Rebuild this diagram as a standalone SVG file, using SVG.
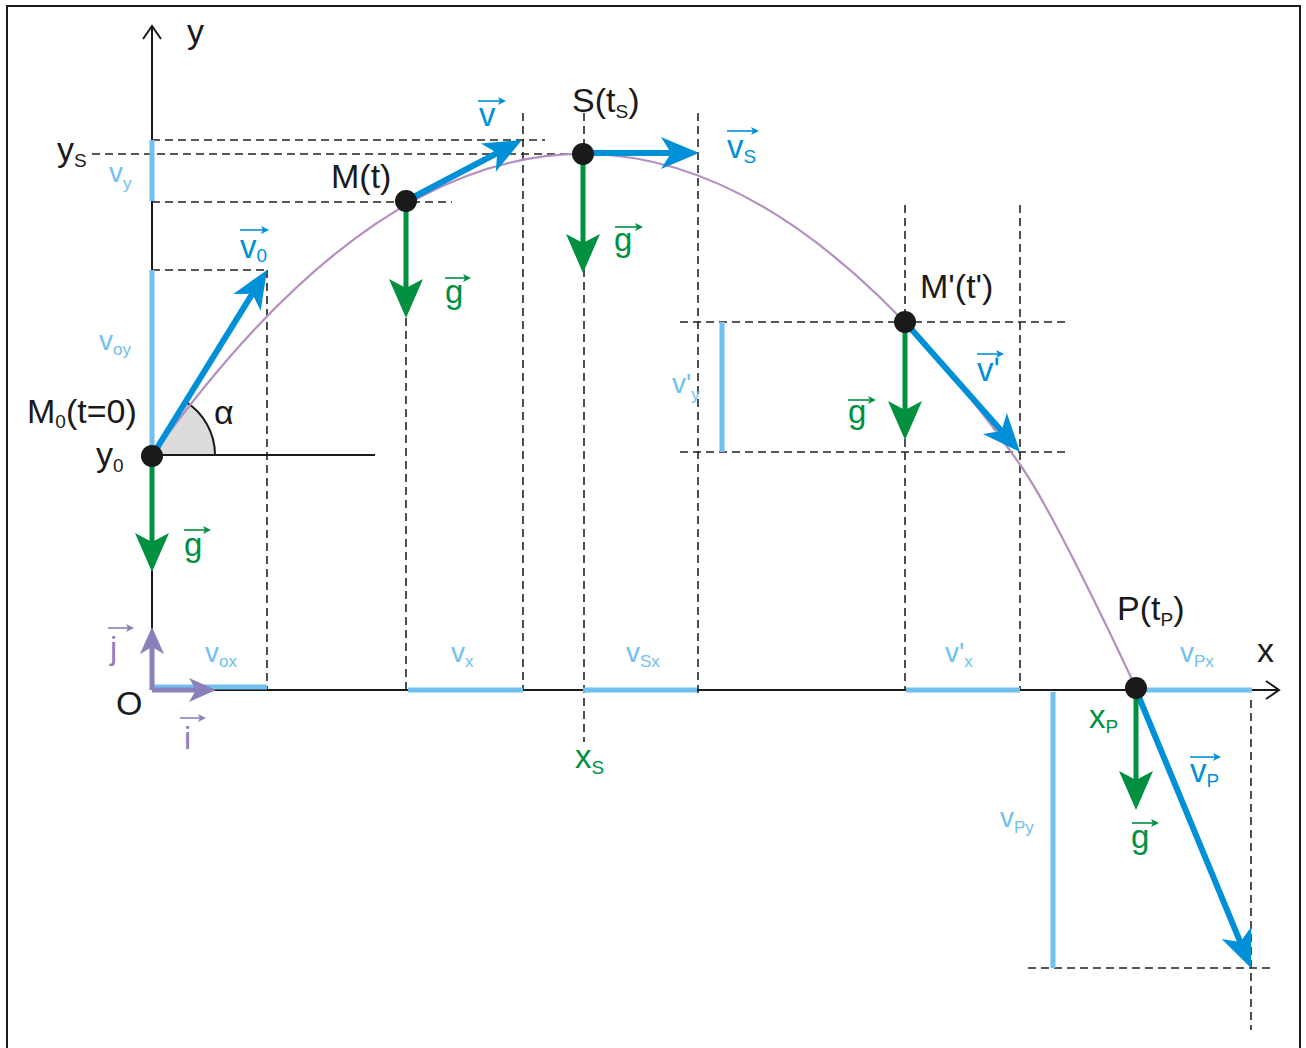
<svg xmlns="http://www.w3.org/2000/svg" width="1306" height="1048" viewBox="0 0 1306 1048">
<defs>
<style>
text{font-family:"Liberation Sans",Arial,sans-serif}
.blk{fill:#1a1a1a;font-size:34px}
.vb{fill:#0090d8;font-size:33px}
.vg{fill:#009040;font-size:33px}
.lb{fill:#72c0ee;font-size:28px}
.pu{fill:#8b80bc;font-size:32px}
.sub{font-size:19px}
.ls{font-size:17px}
.dash{stroke:#222;stroke-width:1.6;stroke-dasharray:8 5;fill:none}
.comp{stroke:#72c0ee;stroke-width:5;fill:none}
.ab{stroke:#0090d8;stroke-width:6;fill:none;marker-end:url(#hb)}
.ag{stroke:#009040;stroke-width:5;fill:none;marker-end:url(#hg)}
.ap{stroke:#8b80bc;stroke-width:5;fill:none;marker-end:url(#hp)}
.tb{stroke:#0090d8;stroke-width:1.6;fill:none;marker-end:url(#sb)}
.tg{stroke:#009040;stroke-width:1.6;fill:none;marker-end:url(#sg)}
.tp{stroke:#8b80bc;stroke-width:1.6;fill:none;marker-end:url(#sp)}
.dot{fill:#1a1a1a}
</style>
<marker id="hb" markerUnits="userSpaceOnUse" orient="auto" overflow="visible" markerWidth="80" markerHeight="80"><path d="M28,0 L-10,-16 L0,0 L-10,16 Z" fill="#0090d8"/></marker>
<marker id="hg" markerUnits="userSpaceOnUse" orient="auto" overflow="visible" markerWidth="80" markerHeight="80"><path d="M30,0 L-9,-17 L0,0 L-9,17 Z" fill="#009040"/></marker>
<marker id="hp" markerUnits="userSpaceOnUse" orient="auto" overflow="visible" markerWidth="60" markerHeight="60"><path d="M20,0 L-7,-12 L0,0 L-7,12 Z" fill="#8b80bc"/></marker>
<marker id="sb" markerUnits="userSpaceOnUse" orient="auto" overflow="visible" markerWidth="20" markerHeight="20"><path d="M6,0 L-2,-4 L0,0 L-2,4 Z" fill="#0090d8"/></marker>
<marker id="sg" markerUnits="userSpaceOnUse" orient="auto" overflow="visible" markerWidth="20" markerHeight="20"><path d="M6,0 L-2,-4 L0,0 L-2,4 Z" fill="#009040"/></marker>
<marker id="sp" markerUnits="userSpaceOnUse" orient="auto" overflow="visible" markerWidth="20" markerHeight="20"><path d="M6,0 L-2,-4 L0,0 L-2,4 Z" fill="#8b80bc"/></marker>
</defs>
<rect x="7" y="6" width="1293" height="1070" fill="#fff" stroke="#1a1a1a" stroke-width="2"/>

<g id="guides">
<path class="dash" d="M92,154H583 M152,140H545 M152,202H452 M152,270H267 M267,270V690 M406,201V690 M523,113V690 M584,113V742 M698,113V698 M680,322H1068 M680,452H1068 M905,205V690 M1020,205V690 M1028,968H1275 M1251,700V1030"/>
</g>

<g id="axes">
<path d="M152,690V26 M152,690H1279" stroke="#1a1a1a" stroke-width="2" fill="none"/>
<path d="M143,39 L152,26 L161,39" stroke="#1a1a1a" stroke-width="2" fill="none"/>
<path d="M1266,681 L1279,690 L1266,699" stroke="#1a1a1a" stroke-width="2" fill="none"/>
<path d="M152,455H375" stroke="#1a1a1a" stroke-width="2" fill="none"/>
</g>

<g id="angle">
<path d="M152,455 L185,401.4 A63,63 0 0 1 215,455 Z" fill="#dcdcdc" stroke="#1a1a1a" stroke-width="2"/>
</g>

<g id="trajectory">
<path d="M152,456 Q586,-152.3 1020,464.5 C1050,507.1 1108,628 1136,688" stroke="#b58fc0" stroke-width="2.2" fill="none"/>
</g>

<g id="components">
<path class="comp" d="M152,140V201 M152,270V455 M722,322V452 M152,687H267 M408,690H523 M583,690H697 M906,690H1020 M1136,690H1252 M1053,692V968"/>
</g>

<g id="connectors">
<path class="ap" d="M152,690V647"/>
<path class="ap" d="M152,690H196"/>
<path class="ab" d="M152,456 L252.3,293.8"/>
<path class="ab" d="M406,201 L497.2,153"/>
<path class="ab" d="M583,153 L671,153"/>
<path class="ab" d="M905,322 L1001.5,431"/>
<path class="ab" d="M1136,690 L1240.3,942.1"/>
<path class="ag" d="M152,456V542"/>
<path class="ag" d="M406,201V288"/>
<path class="ag" d="M583,154V243"/>
<path class="ag" d="M905,322V410"/>
<path class="ag" d="M1136,690V780"/>
</g>

<g id="M0"><circle class="dot" cx="152" cy="456" r="11"/></g>
<g id="M"><circle class="dot" cx="406" cy="201" r="11"/></g>
<g id="S"><circle class="dot" cx="583" cy="154" r="11"/></g>
<g id="Mp"><circle class="dot" cx="905" cy="322" r="11"/></g>
<g id="P"><circle class="dot" cx="1136" cy="688" r="11"/></g>

<g id="labels-black">
<text class="blk" x="187" y="43">y</text>
<text class="blk" x="57" y="161">y<tspan class="sub" dy="6" font-size="21">S</tspan></text>
<text class="blk" x="331" y="188">M(t)</text>
<text class="blk" x="572" y="112">S(t<tspan class="sub" dy="6" font-size="21">S</tspan><tspan dy="-6">)</tspan></text>
<text class="blk" x="920" y="298">M'(t')</text>
<text class="blk" x="27" y="423">M<tspan class="sub" dy="5">0</tspan><tspan dy="-5">(t=0)</tspan></text>
<text class="blk" x="96" y="466">y<tspan class="sub" dy="6">0</tspan></text>
<text class="blk" x="214" y="424" font-size="27">α</text>
<text class="blk" x="116" y="715">O</text>
<text class="blk" x="1117" y="620">P(t<tspan class="sub" dy="6">P</tspan><tspan dy="-6">)</tspan></text>
<text class="blk" x="1257" y="662">x</text>
</g>

<g id="labels-vectors">
<text class="vb" x="240" y="258">v<tspan class="sub" dy="4">0</tspan></text>
<path class="tb" d="M240,230H263"/>
<text class="vb" x="479" y="126">v</text>
<path class="tb" d="M478,101H500"/>
<text class="vb" x="727" y="158">v<tspan class="sub" dy="5">S</tspan></text>
<path class="tb" d="M727,131H753"/>
<text class="vb" x="977" y="381">v'</text>
<path class="tb" d="M977,354H998"/>
<text class="vb" x="1190" y="782">v<tspan class="sub" dy="5">P</tspan></text>
<path class="tb" d="M1190,757H1215"/>

<text class="vg" x="184" y="556">g</text>
<path class="tg" d="M184,530H205"/>
<text class="vg" x="445" y="303">g</text>
<path class="tg" d="M445,278H465"/>
<text class="vg" x="614" y="251">g</text>
<path class="tg" d="M615,227H637"/>
<text class="vg" x="848" y="423">g</text>
<path class="tg" d="M848,400H870"/>
<text class="vg" x="1131" y="848">g</text>
<path class="tg" d="M1132,823H1153"/>
<text class="vg" x="575" y="768">x<tspan class="sub" dy="6">S</tspan></text>
<text class="vg" x="1089" y="728">x<tspan class="sub" dy="5">P</tspan></text>

<text class="pu" x="110" y="659">j</text>
<path class="tp" d="M108,628H128"/>
<text class="pu" x="184" y="749">i</text>
<path class="tp" d="M180,718H200"/>
</g>

<g id="labels-components">
<text class="lb" x="109" y="182">v<tspan class="ls" dy="7">y</tspan></text>
<text class="lb" x="99" y="350">v<tspan class="ls" dy="5">oy</tspan></text>
<text class="lb" x="672" y="393">v'<tspan class="ls" dy="7">y</tspan></text>
<text class="lb" x="205" y="662">v<tspan class="ls" dy="5">ox</tspan></text>
<text class="lb" x="451" y="662">v<tspan class="ls" dy="5">x</tspan></text>
<text class="lb" x="626" y="662">v<tspan class="ls" dy="5">Sx</tspan></text>
<text class="lb" x="945" y="662">v'<tspan class="ls" dy="5">x</tspan></text>
<text class="lb" x="1180" y="662">v<tspan class="ls" dy="5">Px</tspan></text>
<text class="lb" x="1000" y="827">v<tspan class="ls" dy="6">Py</tspan></text>
</g>
</svg>
